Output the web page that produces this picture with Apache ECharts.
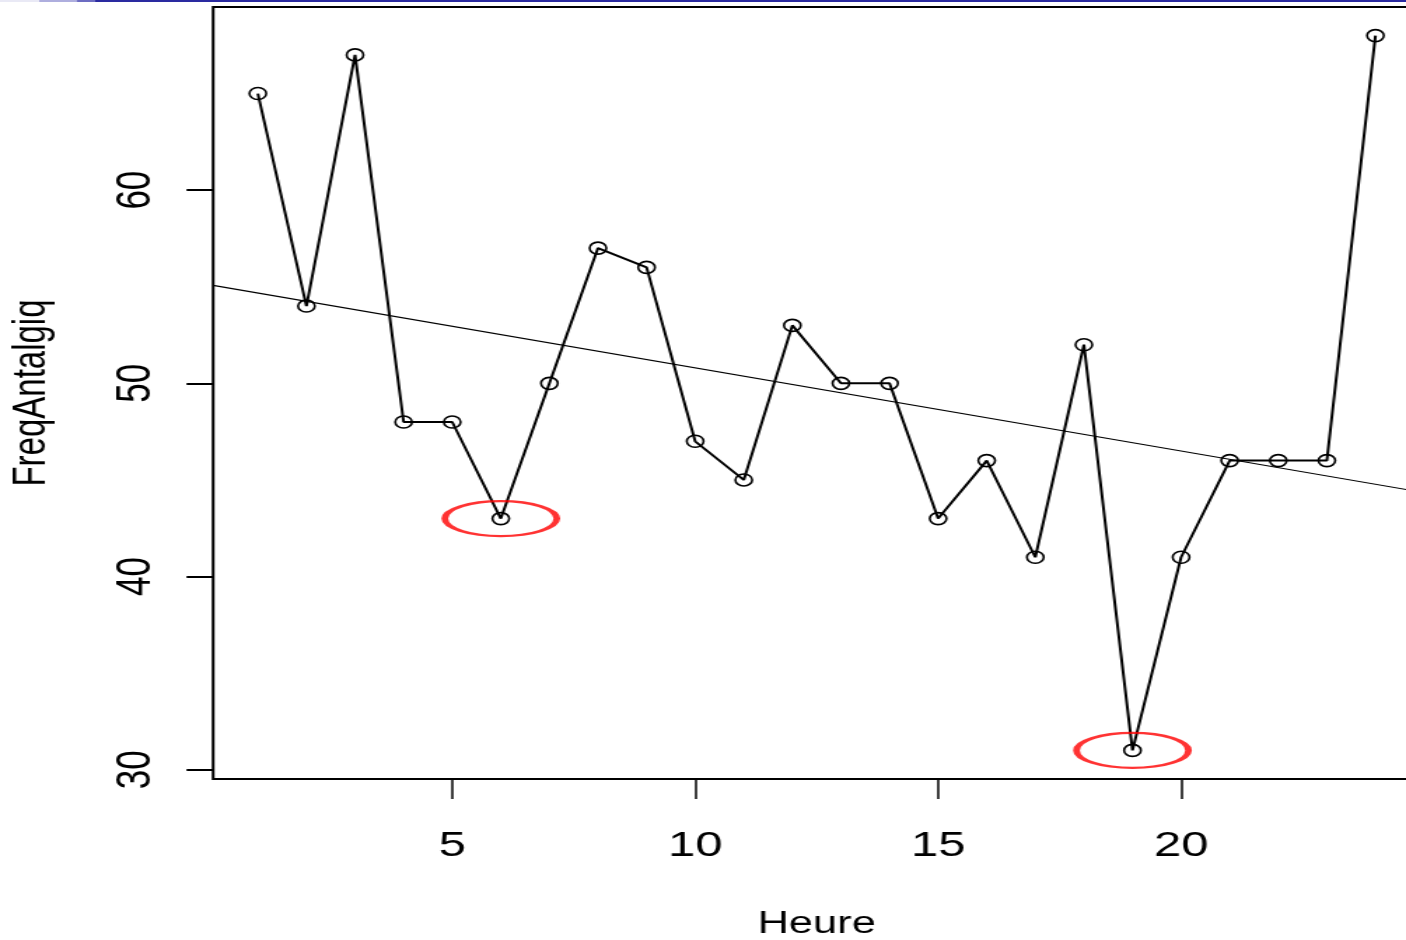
<!DOCTYPE html>
<html>
<head>
<meta charset="utf-8">
<script src="https://cdn.jsdelivr.net/npm/echarts@6/dist/echarts.min.js"></script>
<style>
  html, body { margin: 0; padding: 0; background: #fff; overflow: hidden; width: 1406px; height: 940px; }
  #wrap { width: 1406px; height: 940px; overflow: hidden; position: relative; }
  #chart { width: 1004px; height: 940px; transform: scaleX(1.4004); transform-origin: 0 0; }
</style>
</head>
<body>
<div id="wrap"><div id="chart"></div></div>
<script>
// ---- data ----
const heures = [1, 2, 3, 4, 5, 6, 7, 8, 9, 10, 11, 12, 13, 14, 15, 16, 17, 18, 19, 20, 21, 22, 23, 24];
const freqAntalgiq = [65, 54, 67, 48, 48, 43, 50, 57, 56, 47, 45, 53, 50, 50, 43, 46, 41, 52, 31, 41, 46, 46, 46, 68];
const xTicks = [5, 10, 15, 20];
const yTicks = [30, 40, 50, 60];
const circledHeures = [6, 19];
const trendLine = [[0.08, 55.07], [24.92, 44.38]];
const xRange = [0.08, 24.92];
const yRange = [29.52, 69.48];

const FONT = '"Liberation Sans", Arial, sans-serif';
const chart = echarts.init(document.getElementById('chart'), null, { renderer: 'canvas' });

const linePoints = heures.map((h, i) => [h, freqAntalgiq[i]]);
const circledPoints = circledHeures.map(h => [h, freqAntalgiq[heures.indexOf(h)]]);

chart.setOption({
  animation: false,
  backgroundColor: '#ffffff',
  grid: {
    left: 152.2, top: 7, width: 861.9, height: 772,
    show: true, borderColor: '#000', borderWidth: 2, backgroundColor: 'transparent',
    containLabel: false, outerBoundsMode: 'none'
  },
  xAxis: {
    type: 'value', min: xRange[0], max: xRange[1],
    name: 'Heure', nameLocation: 'middle', nameGap: 130,
    nameTextStyle: { fontFamily: FONT, fontSize: 31, color: '#000' },
    axisLine: { show: false },
    axisTick: { show: true, customValues: xTicks, length: 20, lineStyle: { color: '#000', width: 1.5 } },
    axisLabel: { customValues: xTicks, margin: 50, fontSize: 35, fontFamily: FONT, color: '#000' },
    splitLine: { show: false }
  },
  yAxis: {
    type: 'value', min: yRange[0], max: yRange[1],
    name: 'FreqAntalgiq', nameLocation: 'middle', nameGap: 113, nameRotate: 90,
    nameTextStyle: { fontFamily: FONT, fontSize: 33, color: '#000' },
    axisLine: { show: false },
    axisTick: { show: true, customValues: yTicks, length: 19, lineStyle: { color: '#000', width: 2 } },
    axisLabel: { customValues: yTicks, rotate: 90, margin: 37, fontSize: 35, fontFamily: FONT, color: '#000' },
    splitLine: { show: false }
  },
  graphic: [
    { type: 'rect', shape: { x: 0, y: 0, width: 28, height: 2 }, style: { fill: '#e9e9f5' }, z: 100 },
    { type: 'rect', shape: { x: 28, y: 0, width: 27, height: 2 }, style: { fill: '#aeaede' }, z: 100 },
    { type: 'rect', shape: { x: 55, y: 0, width: 13, height: 2 }, style: { fill: '#6c6cc2' }, z: 100 },
    { type: 'rect', shape: { x: 68, y: 0, width: 940, height: 2 }, style: { fill: '#2a2aa0' }, z: 100 }
  ],
  series: [
    {
      type: 'line', data: trendLine, symbol: 'none', silent: true,
      lineStyle: { color: '#000', width: 1.2 }, z: 2
    },
    {
      type: 'line', data: linePoints, symbol: 'circle', symbolSize: 12, showSymbol: true, silent: true,
      lineStyle: { color: '#000', width: 2 },
      itemStyle: { color: 'rgba(0,0,0,0)', borderColor: '#000', borderWidth: 1.6 },
      z: 3
    },
    {
      type: 'scatter', data: circledPoints, silent: true,
      symbol: 'path://M0,50 A50,50 0 1,1 100,50 A50,50 0 1,1 0,50 Z',
      symbolSize: [80, 35],
      itemStyle: { color: 'rgba(0,0,0,0)', borderColor: '#ff0000', borderWidth: 3.2 },
      z: 4
    }
  ]
});
</script>
</body>
</html>
